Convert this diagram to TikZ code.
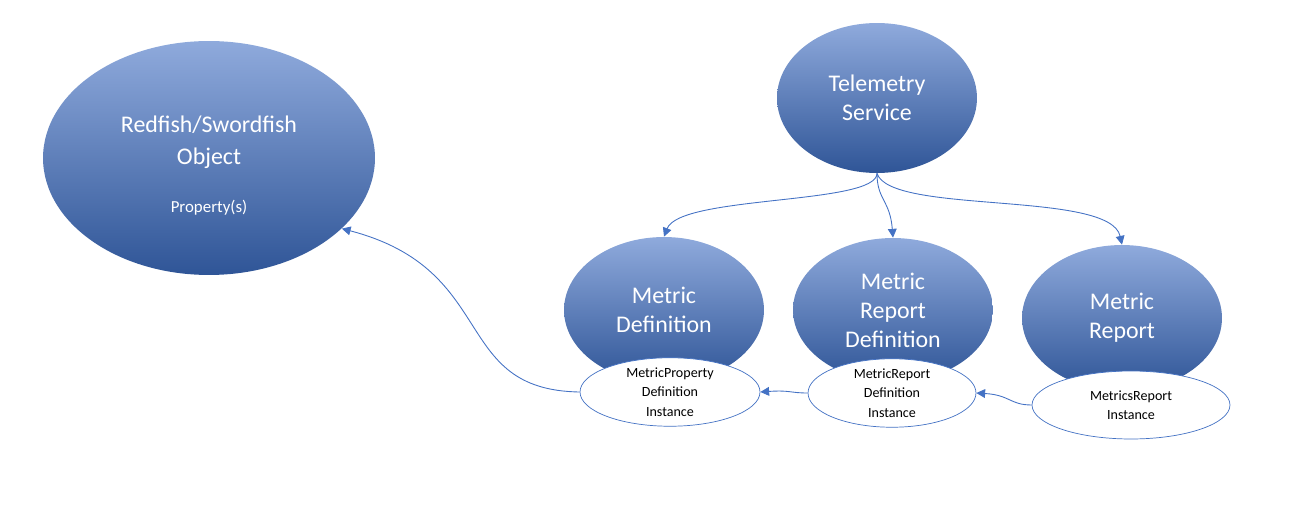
\documentclass[tikz,border=0pt]{standalone}
\usepackage{fontspec}
\setmainfont{Carlito}
\usetikzlibrary{shapes.geometric, arrows.meta, positioning}
\definecolor{topblue}{HTML}{8FAADC}
\definecolor{midblue}{HTML}{4472C4}
\definecolor{botblue}{HTML}{2F5597}
\begin{document}
\begin{tikzpicture}[
    x=0.02cm, y=-0.02cm,
    big/.style={ellipse, top color=topblue, middle color=midblue, bottom color=botblue, draw=none, align=center, text=white, font=\fontsize{13.6}{16.5}\selectfont},
    inst/.style={ellipse, draw=midblue, fill=white, align=center, font=\fontsize{8}{11}\selectfont, inner sep=0pt},
    arrow/.style={-{Triangle[width=5pt,length=5pt]}, midblue, line width=0.5pt}
]
    \useasboundingbox (0,0) rectangle (1309,513);
    % Main objects
    \node[big, minimum width=6.64cm, minimum height=4.68cm] (obj) at (209,158) {};
    \node[text=white, align=center, font=\fontsize{13.6}{18}\selectfont] (objname) at (209,142) {Redfish/Swordfish\\Object};
    \node[text=white, font=\fontsize{9.6}{11}\selectfont] (objprop) at (209,208) {Property(s)};

    \node[big, minimum width=4cm, minimum height=3cm] (tel) at (877,98) {Telemetry\\Service};
    \node[big, minimum width=4cm, minimum height=2.92cm] (md) at (664,310) {Metric\\Definition};
    \node[big, minimum width=4cm, minimum height=2.88cm] (mrd) at (893,310) {Metric\\Report\\Definition};
    \node[big, minimum width=4cm, minimum height=2.92cm] (mr) at (1122,318) {Metric\\Report};

    % Instances
    \node[inst, minimum width=3.6cm, minimum height=1.32cm] (mpi) at (670,392) {MetricProperty\\Definition\\Instance};
    \node[inst, minimum width=3.36cm, minimum height=1.32cm] (mrdi) at (892,393) {MetricReport\\Definition\\Instance};
    \node[inst, minimum width=3.96cm, minimum height=1.36cm] (mri) at (1131,405) {MetricsReport\\Instance};

    % Arrows
    \draw[arrow] (tel.south) .. controls (877,205) and (680,195) .. (md.north);
    \draw[arrow] (tel.south) .. controls (877,200) and (890,200) .. (mrd.north);
    \draw[arrow] (tel.south) .. controls (890,215) and (1110,190) .. (mr.north);
    \draw[arrow] (mpi.west) .. controls (450,390) and (500,270) .. (obj.-28);
    \draw[arrow] (mrdi.west) .. controls (790,393) and (790,390) .. (mpi.east);
    \draw[arrow] (mri.west) .. controls (1010,405) and (1010,395) .. (mrdi.east);
\end{tikzpicture}
\end{document}
